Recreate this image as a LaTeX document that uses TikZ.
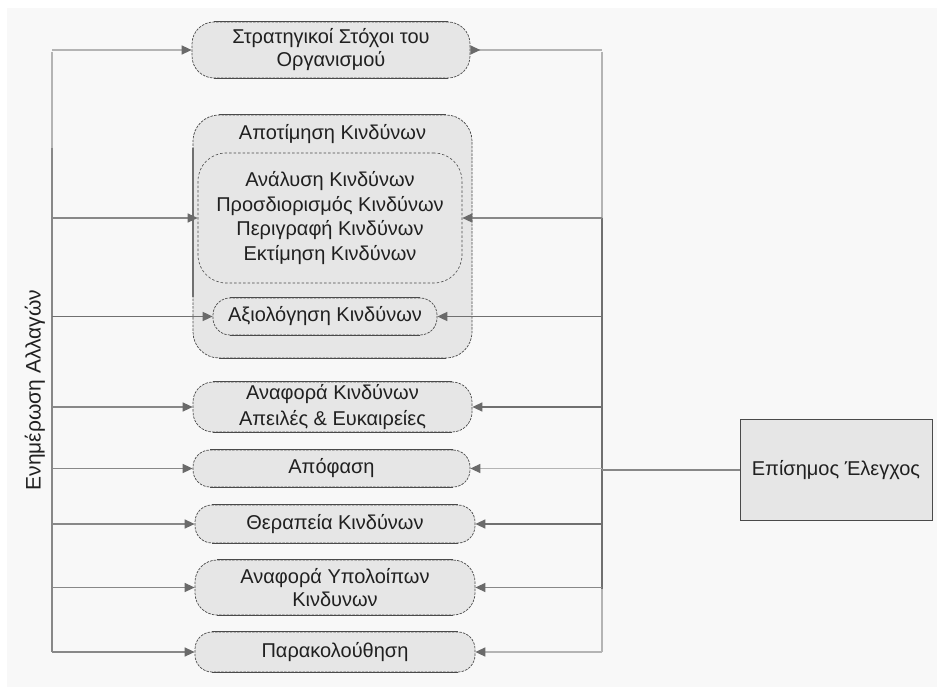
\documentclass[tikz,border=0pt]{standalone}
\usepackage{fontspec}
\setmainfont{Liberation Sans}
\usetikzlibrary{arrows.meta}
\definecolor{bgc}{HTML}{F8F8F8}
\definecolor{boxfill}{HTML}{E6E6E6}
\definecolor{linec}{HTML}{888888}
\definecolor{linedark}{HTML}{707070}
\definecolor{linelight}{HTML}{B4B4B4}
\definecolor{arrowc}{HTML}{6A6A6A}
\definecolor{edgec}{HTML}{4A4A4A}
\definecolor{textc}{HTML}{202020}
\begin{document}
\begin{tikzpicture}[x=1pt,y=-1pt,
  font=\fontsize{20}{23}\selectfont,
  pill/.style={fill=boxfill, draw=edgec, line width=0.7pt,
    dash pattern=on 2.5pt off 1.2pt, rounded corners=17pt,
    align=center, inner sep=0pt, text=textc},
  solidedge/.style={draw=edgec, line width=0.9pt},
  busline/.style={line width=1.3pt},
  conn/.style={draw=linec, line width=1.3pt,
    -{Triangle[length=10pt,width=9pt,color=arrowc]}},
  connrev/.style={draw=linelight, line width=1.3pt,
    {Triangle[length=10pt,width=9pt,reversed,color=arrowc]}-},
  plainbox/.style={draw=edgec, fill=boxfill, line width=0.9pt,
    inner sep=0pt, text=textc, align=center}
]
\useasboundingbox (0,0) rectangle (937,692);
\fill[bgc] (7,8) rectangle (937,687);

% bus coordinates
\coordinate (ltop) at (52,52);
\coordinate (lmid) at (52,148);
\coordinate (lbot) at (52,652);
\coordinate (rtop) at (602,52);
\coordinate (rm1) at (602,218);
\coordinate (rm2) at (602,589);
\coordinate (rbot) at (602,652);

% boxes
\node[pill, rounded corners=22pt, minimum width=278pt, minimum height=56pt] (b1) at (331,50)
  {Στρατηγικοί Στόχοι του\\Οργανισμού};

\node[pill, rounded corners=26pt, minimum width=279pt, minimum height=243pt] (outer) at (332.5,236.5) {};
\node[text=textc] (title) at (332.5,134) {Αποτίμηση Κινδύνων};
\node[draw=edgec, line width=0.6pt, dash pattern=on 2.5pt off 2pt, rounded corners=28pt,
  minimum width=264pt, minimum height=130pt, align=center, inner sep=0pt, text=textc,
  font=\fontsize{20}{24.5}\selectfont] (inner) at (330,218)
  {Ανάλυση Κινδύνων\\Προσδιορισμός Κινδύνων\\Περιγραφή Κινδύνων\\Εκτίμηση Κινδύνων};
\node[pill, minimum width=224pt, minimum height=37pt] (ax) at (325,316.5) {Αξιολόγηση Κινδύνων};

\node[pill, rounded corners=20pt, minimum width=279pt, minimum height=50pt, font=\fontsize{20}{26}\selectfont] (b4) at (332.5,407)
  {Αναφορά Κινδύνων\\Απειλές \& Ευκαιρείες};
\node[pill, minimum width=277pt, minimum height=37pt] (b5) at (331.5,468.5) {Απόφαση};
\node[pill, minimum width=280pt, minimum height=38pt] (b6) at (335,524) {Θεραπεία Κινδύνων};
\node[pill, rounded corners=22pt, minimum width=280pt, minimum height=55pt] (b7) at (335,587.5)
  {Αναφορά Υπολοίπων\\Κινδυνων};
\node[pill, minimum width=280pt, minimum height=40pt] (b8) at (335,652) {Παρακολούθηση};

\node[plainbox, minimum width=192pt, minimum height=101pt] (ep) at (836,470) {Επίσημος Έλεγχος};

\node[rotate=90, text=textc, font=\fontsize{21}{24}\selectfont] (upd) at (35,390) {Ενημέρωση Αλλαγών};

% solid straight edges of the rounded boxes
\foreach \n/\r in {b1/22, outer/26, ax/17, b4/20, b5/17, b6/17, b7/22, b8/17}{
  \draw[solidedge] ([xshift=\r pt]\n.north west) -- ([xshift=-\r pt]\n.north east);
  \draw[solidedge] ([xshift=\r pt]\n.south west) -- ([xshift=-\r pt]\n.south east);
}
\draw[linedark, line width=2pt] ([yshift=-33pt]outer.north west) -- ([yshift=-182pt]outer.north west);

% buses
\draw[linelight, busline] (ltop) -- (lmid);
\draw[linec, busline] (lmid) -- (lbot);
\draw[linelight, busline] (rtop) -- (rm1);
\draw[linedark, busline] (rm1) -- (rm2);
\draw[linelight, busline] (rm2) -- (rbot);

% left connectors
\draw[conn, draw=linelight] (b1.west -| ltop) -- (b1.west);
\draw[conn] (inner.west -| ltop) -- (inner.west);
\draw[conn, draw=linedark, line width=1.6pt] (ax.west -| ltop) -- (ax.west);
\draw[conn] (b4.west -| ltop) -- (b4.west);
\draw[conn] (b5.west -| ltop) -- (b5.west);
\draw[conn] (b6.west -| ltop) -- (b6.west);
\draw[conn] (b7.west -| ltop) -- (b7.west);
\draw[conn] (b8.west -| ltop) -- (b8.west);

% right connectors
\draw[connrev] (b1.east) -- (b1.east -| rtop);
\draw[conn] (inner.east -| rtop) -- (inner.east);
\draw[conn, draw=linedark, line width=1.6pt] (ax.east -| rtop) -- (ax.east);
\draw[conn, draw=linedark] (b4.east -| rtop) -- (b4.east);
\draw[conn, draw=linelight] (b5.east -| rtop) -- (b5.east);
\draw[conn, draw=linedark] (b6.east -| rtop) -- (b6.east);
\draw[conn] (b7.east -| rtop) -- (b7.east);
\draw[conn, draw=linelight] (b8.east -| rtop) -- (b8.east);

\draw[linec, line width=1.3pt] (ep.west -| rtop) -- (ep.west);
\end{tikzpicture}
\end{document}
